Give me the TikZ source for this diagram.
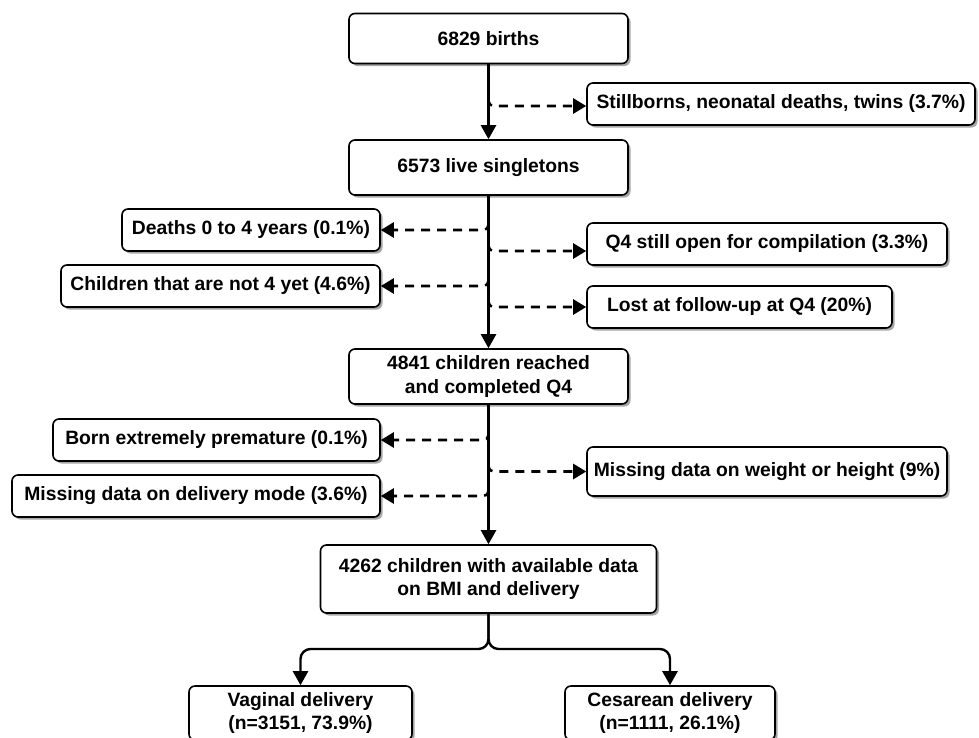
\documentclass[tikz,border=0pt]{standalone}
\usepackage{fontspec}
\newfontfamily\boxfont{Liberation Sans Bold}
\usetikzlibrary{arrows.meta,shadows,calc}
\tikzset{
  box/.style={draw=black, line width=1.6pt, rounded corners=6pt, fill=white,
    align=center, inner sep=0pt,
    font=\boxfont\fontsize{19.3}{23.5}\selectfont,
    drop shadow={shadow xshift=2.5pt, shadow yshift=-2.5pt, opacity=0.35, fill=black}},
  mainarrow/.style={line width=2.4pt, -{Triangle[width=15pt,length=14pt]}},
  dasharrow/.style={line width=2.6pt, dash pattern=on 9pt off 7pt,
    -{Triangle[width=15pt,length=13pt]}, rounded corners=5pt},
}
\begin{document}
\begin{tikzpicture}[x=1pt,y=-1pt]
\useasboundingbox (0,0) rectangle (979,737);
\fill[white] (0,0) rectangle (979,737);
\clip (0,0) rectangle (979,737);

\node[box, minimum width=279pt, minimum height=50pt] (b1) at (488.5,38.5) {6829 births};
\node[box, minimum width=279pt, minimum height=55pt] (b2) at (488.5,167.5) {6573 live singletons};
\node[box, minimum width=388pt, minimum height=42pt] (still) at (781,104) {Stillborns, neonatal deaths, twins (3.7\%)};
\node[box, minimum width=258pt, minimum height=42pt] (deaths) at (251,230) {Deaths 0 to 4 years (0.1\%)};
\node[box, minimum width=360pt, minimum height=42pt] (open) at (767,244) {Q4 still open for compilation (3.3\%)};
\node[box, minimum width=319pt, minimum height=42pt] (notfour) at (220.5,286) {Children that are not 4 yet (4.6\%)};
\node[box, minimum width=305pt, minimum height=42pt] (lost) at (739.5,307) {Lost at follow-up at Q4 (20\%)};
\node[box, minimum width=279pt, minimum height=55pt] (b3) at (488.5,376.5) {4841 children reached\\and completed Q4};
\node[box, minimum width=327pt, minimum height=42pt] (prem) at (216.5,440) {Born extremely premature (0.1\%)};
\node[box, minimum width=360pt, minimum height=49pt] (weight) at (767,471.5) {Missing data on weight or height (9\%)};
\node[box, minimum width=368pt, minimum height=42pt] (mode) at (196,496) {Missing data on delivery mode (3.6\%)};
\node[box, minimum width=336pt, minimum height=68pt] (b4) at (488.5,579) {4262 children with available data\\on BMI and delivery};
\node[box, minimum width=223pt, minimum height=54pt] (vag) at (300.5,713) {Vaginal delivery\\(n=3151, 73.9\%)};
\node[box, minimum width=210pt, minimum height=54pt] (ces) at (670,713) {Cesarean delivery\\(n=1111, 26.1\%)};

\draw[mainarrow] (b1.south) -- (b2.north);
\draw[mainarrow] (b2.south) -- (b3.north);
\draw[mainarrow] (b3.south) -- (b4.north);

\coordinate (j1) at (488.5,98);
\coordinate (j2) at (488.5,222);
\coordinate (j3) at (488.5,243);
\coordinate (j4) at (488.5,278);
\coordinate (j5) at (488.5,299);
\coordinate (j6) at (488.5,431);
\coordinate (j7) at (488.5,464);
\coordinate (j8) at (488.5,489);

\draw[dasharrow] (j1) |- ([yshift=-2pt]still.west);
\draw[dasharrow] (j2) |- (deaths.east);
\draw[dasharrow] (j3) |- ([yshift=-7pt]open.west);
\draw[dasharrow] (j4) |- (notfour.east);
\draw[dasharrow] (j5) |- (lost.west);
\draw[dasharrow] (j6) |- (prem.east);
\draw[dasharrow] (j7) |- (weight.west);
\draw[dasharrow] (j8) |- (mode.east);

\coordinate (fork) at (488.5,649);
\draw[mainarrow, rounded corners=10pt] (b4.south) -- (fork) -| (vag.north);
\draw[mainarrow, rounded corners=10pt] (b4.south) -- (fork) -| (ces.north);
\end{tikzpicture}
\end{document}
